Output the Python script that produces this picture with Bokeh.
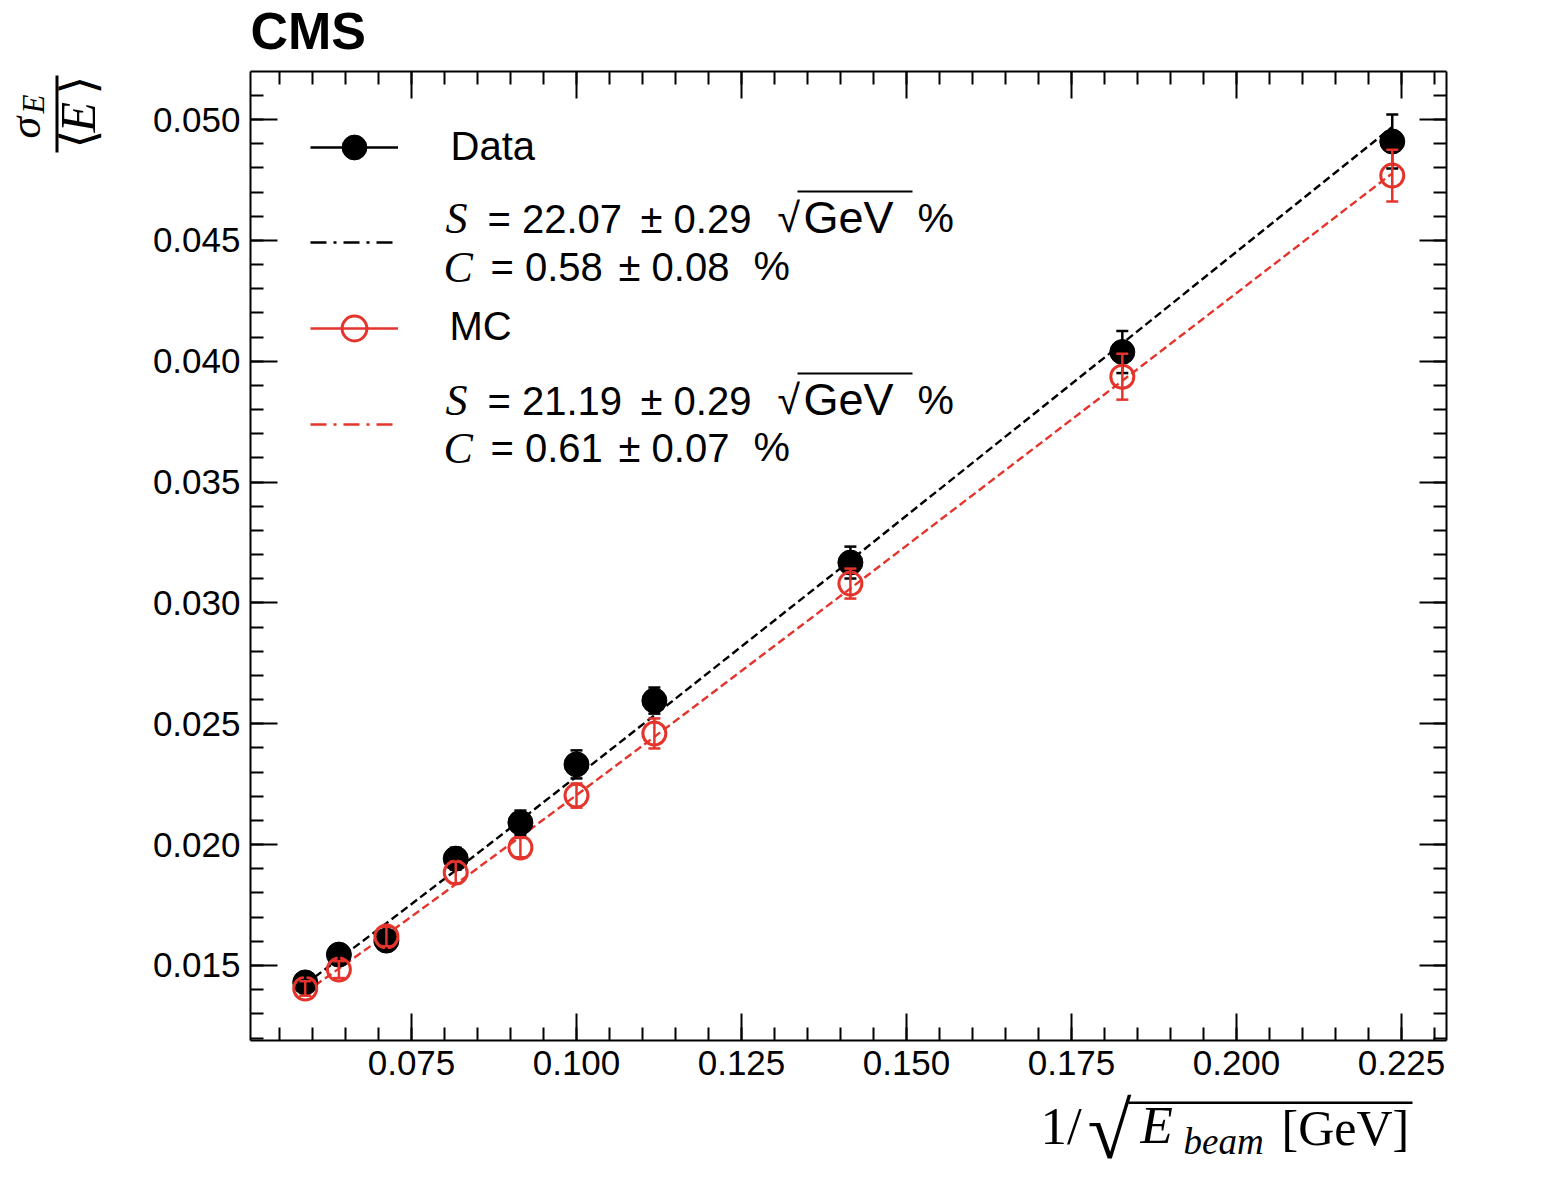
import math
from bokeh.plotting import figure
from bokeh.models import (Range1d, LinearAxis, SingleIntervalTicker, NumeralTickFormatter,
                          ColumnDataSource, Whisker, TeeHead, Label, Legend, LegendItem,
                          BoxAnnotation)
from bokeh.embed import file_html
from bokeh.resources import INLINE

# ---------------- data ----------------
inv_sqrt_e = [0.0589, 0.0640, 0.0712, 0.0817, 0.0915, 0.1000, 0.1118, 0.1415, 0.1827, 0.2236]
data_res = [0.01430, 0.01545, 0.01603, 0.01942, 0.02091, 0.02332, 0.02596, 0.03167, 0.04038, 0.04909]
data_err = [0.00030, 0.00035, 0.00040, 0.00045, 0.00050, 0.00058, 0.00054, 0.00066, 0.00087, 0.00112]
mc_res = [0.01405, 0.01483, 0.01620, 0.01885, 0.01988, 0.02203, 0.02460, 0.03080, 0.03936, 0.04768]
mc_err = [0.00030, 0.00035, 0.00040, 0.00045, 0.00040, 0.00050, 0.00062, 0.00062, 0.00095, 0.00107]
fit_data = [0.01423, 0.01527, 0.01675, 0.01894, 0.02101, 0.02282, 0.02535, 0.03176, 0.04074, 0.04969]
fit_mc = [0.01389, 0.01487, 0.01627, 0.01836, 0.02033, 0.02205, 0.02446, 0.03060, 0.03919, 0.04777]

series_names = ["Data", "MC"]
data_S = ["22.07", "0.29"]
data_C = ["0.58", "0.08"]
mc_S = ["21.19", "0.29"]
mc_C = ["0.61", "0.07"]

x_tick_step = 0.025
y_tick_step = 0.005

BLACK = "black"
RED = "#e5342c"
SANS = "Liberation Sans"
SERIF = "Liberation Serif"

# ---------------- geometry ----------------
W, H = 1548, 1188                 # canvas
FL, FR, FT, FB = 250, 1446, 71, 1040   # inner (axes) box in canvas pixels
xL, xR = 0.050606, 0.231818       # data limits of the axes box
yB, yT = 0.011897, 0.051986
pxx = (FR - FL) / (xR - xL)
pxy = (FB - FT) / (yT - yB)

p = figure(width=W, height=H,
           x_range=Range1d(xL - FL / pxx, xR + (W - FR) / pxx),
           y_range=Range1d(yB - (H - FB) / pxy, yT + FT / pxy),
           x_axis_type=None, y_axis_type=None, min_border=0,
           output_backend="svg", toolbar_location=None)
p.background_fill_color = "white"
p.border_fill_color = "white"
p.outline_line_color = None


def make_axis(fixed, bounds, step, show_labels):
    ax = LinearAxis(fixed_location=fixed, bounds=bounds,
                    ticker=SingleIntervalTicker(interval=step, num_minor_ticks=5),
                    formatter=NumeralTickFormatter(format="0.000"))
    ax.major_tick_in = 27
    ax.major_tick_out = 0
    ax.minor_tick_in = 13
    ax.minor_tick_out = 0
    ax.major_tick_line_width = 2
    ax.minor_tick_line_width = 2
    ax.axis_line_width = 2
    ax.axis_line_color = "black"
    ax.major_label_text_font = SANS
    ax.major_label_text_font_size = "35px"
    ax.major_label_standoff = 10
    ax.major_label_text_color = "black" if show_labels else None
    return ax


p.add_layout(make_axis(yB, (xL, xR), x_tick_step, True), "below")
p.add_layout(make_axis(yT, (xL, xR), x_tick_step, False), "above")
p.add_layout(make_axis(xL, (yB, yT), y_tick_step, True), "left")
p.add_layout(make_axis(xR, (yB, yT), y_tick_step, False), "right")

# ---------------- fit curves ----------------
p.line(inv_sqrt_e, fit_data, line_color=BLACK, line_width=2.4, line_dash="8 4")
p.line(inv_sqrt_e, fit_mc, line_color=RED, line_width=2.4, line_dash="8 4")

# ---------------- data points ----------------
src_d = ColumnDataSource(dict(x=inv_sqrt_e, y=data_res,
                              lo=[v - e for v, e in zip(data_res, data_err)],
                              hi=[v + e for v, e in zip(data_res, data_err)]))
src_m = ColumnDataSource(dict(x=inv_sqrt_e, y=mc_res,
                              lo=[v - e for v, e in zip(mc_res, mc_err)],
                              hi=[v + e for v, e in zip(mc_res, mc_err)]))

wd = Whisker(base="x", lower="lo", upper="hi", source=src_d, line_color=BLACK, line_width=2.5,
             upper_head=TeeHead(size=12, line_color=BLACK, line_width=2.5),
             lower_head=TeeHead(size=12, line_color=BLACK, line_width=2.5), level="glyph")
p.add_layout(wd)
r_data = p.scatter("x", "y", source=src_d, size=25, marker="circle",
                   fill_color=BLACK, line_color=BLACK)
wm = Whisker(base="x", lower="lo", upper="hi", source=src_m, line_color=RED, line_width=2.5,
             upper_head=TeeHead(size=12, line_color=RED, line_width=2.5),
             lower_head=TeeHead(size=12, line_color=RED, line_width=2.5), level="glyph")
p.add_layout(wm)
r_mc = p.scatter("x", "y", source=src_m, size=23, marker="circle",
                 fill_color=None, line_color=RED, line_width=3)

# ---------------- legend samples (proxies that draw nothing in the plot) ----------------
nan_y = [float("nan")] * len(inv_sqrt_e)
leg_line_d = p.line(inv_sqrt_e, nan_y, line_color=BLACK, line_width=2.5)
leg_line_m = p.line(inv_sqrt_e, nan_y, line_color=RED, line_width=2.5)
leg_fit_d = p.line(inv_sqrt_e, nan_y, line_color=BLACK, line_width=2.5, line_dash="16 7 3 7")
leg_fit_m = p.line(inv_sqrt_e, nan_y, line_color=RED, line_width=2.5, line_dash="16 7 3 7")


def add_legend(renderers, center_y, gh):
    leg = Legend(items=[LegendItem(label=" ", renderers=renderers)],
                 location=(310, H - center_y - gh / 2),
                 glyph_width=88, glyph_height=gh, label_width=0, label_height=gh,
                 label_standoff=0, label_text_font_size="10px", label_text_color=None,
                 padding=0, margin=0, spacing=0, border_line_color=None,
                 background_fill_alpha=0)
    p.add_layout(leg)


add_legend([leg_line_d, r_data], 147, 62)
add_legend([leg_fit_d], 242, 20)
add_legend([leg_line_m, r_mc], 328, 62)
add_legend([leg_fit_m], 424, 20)

K = 0.42   # measured offset of the rendered alphabetic baseline (fraction of font size)


def lab(X, Y, text, size, font=SANS, style="normal", rotated=False):
    if rotated:
        x, y, ang = X - K * size, H - Y, math.pi / 2
    else:
        x, y, ang = X, H - (Y - K * size), 0.0
    p.add_layout(Label(x=x, y=y, x_units="screen", y_units="screen", text=text,
                       text_font=font, text_font_size=f"{size}px", text_font_style=style,
                       angle=ang, text_align="left", text_baseline="alphabetic",
                       text_color="black"))


def box(X0, X1, Y0, Y1):
    p.add_layout(BoxAnnotation(left=X0, right=X1, top=H - Y0, bottom=H - Y1,
                               left_units="screen", right_units="screen",
                               top_units="screen", bottom_units="screen",
                               fill_color="black", fill_alpha=1, line_color=None,
                               level="annotation"))


# legend texts
lab(450, 162, series_names[0], 40)
lab(449, 342, series_names[1], 40)


def fit_text(y1, y2, s_vals, c_vals):
    lab(445, y1 + 1, "S", 44, font=SERIF, style="italic")
    lab(487, y1, "= " + s_vals[0], 40)
    lab(640, y1, "± " + s_vals[1], 40)
    lab(777, y1, "√", 41)
    lab(803, y1 + 1, "GeV", 45)
    lab(917, y1, "%", 41)
    box(797, 912, y1 - 45, y1 - 43)
    lab(443, y2 + 2, "C", 44, font=SERIF, style="italic")
    lab(490, y2, "= " + c_vals[0], 40)
    lab(618, y2, "± " + c_vals[1], 40)
    lab(753, y2, "%", 41)


fit_text(235, 283, data_S, data_C)
fit_text(417, 464, mc_S, mc_C)

# CMS
lab(250, 52, "CMS", 52, style="bold")

# y axis label: sigma_E / <E>, rotated
lab(43, 138, "σ", 44, font=SERIF, style="italic", rotated=True)
lab(46, 113, "E", 31, font=SERIF, style="italic", rotated=True)
box(55, 58, 75, 152)
lab(98, 148, "⟨", 48, font="DejaVu Serif", rotated=True)
lab(98, 132, "E", 50, font=SERIF, style="italic", rotated=True)
lab(98, 94, "⟩", 48, font="DejaVu Serif", rotated=True)

# x axis label: 1/sqrt(E_beam) [GeV]
lab(1040, 1148, "1/", 53, font=SERIF)
lab(1087, 1164, "√", 80, font=SERIF)
box(1128, 1412, 1101, 1103.5)
lab(1140, 1147, "E", 53, font=SERIF, style="italic")
lab(1183, 1157, "beam", 37, font=SERIF, style="italic")
lab(1281, 1148, "[GeV]", 50, font=SERIF)

open("out.html", "w").write(file_html(p, INLINE))
